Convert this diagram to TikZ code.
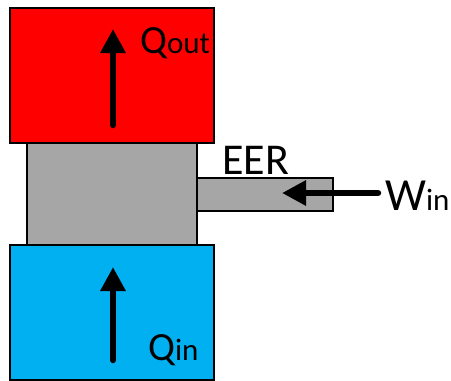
\documentclass[tikz,border=0pt]{standalone}
\usepackage{fontspec}
\setmainfont{Carlito}
\usepackage{tikz}
\usetikzlibrary{arrows.meta}
\definecolor{hotc}{RGB}{255,0,0}
\definecolor{coldc}{RGB}{0,176,240}
\definecolor{bodyc}{RGB}{166,166,166}
\tikzset{
  blk/.style={rectangle,draw=black,line width=1.5pt,inner sep=0pt},
  flux/.style={-{Triangle[length=24pt,width=24pt]},line width=6.5pt,line cap=round,black},
  lbl/.style={anchor=base west,inner sep=0pt,font=\fontsize{40}{48}\selectfont},
}
\newcommand{\sm}[1]{{\fontsize{31}{36}\selectfont #1}}

\begin{document}
\begin{tikzpicture}[x=1pt,y=-1pt]
  \useasboundingbox (0,0) rectangle (451,381);
  \node[blk,fill=bodyc,minimum width=170pt,minimum height=102pt] (body) at (112,194) {};
  \node[blk,fill=bodyc,minimum width=136pt,minimum height=33pt] (shaft) at (265,194.5) {};
  \node[blk,fill=hotc,minimum width=204pt,minimum height=135pt] (hot) at (112,75.5) {};
  \node[blk,fill=coldc,minimum width=204pt,minimum height=135pt] (cold) at (112,312.5) {};
  \coordinate (qo-tail) at (113,125);
  \coordinate (qo-tip) at (113,29);
  \coordinate (qi-tail) at (113,360);
  \coordinate (qi-tip) at (113,267);
  \coordinate (w-tail) at (378,193);
  \coordinate (w-tip) at (282,193);
  \draw[flux] (qo-tail) -- (qo-tip);
  \draw[flux] (qi-tail) -- (qi-tip);
  \draw[flux] (w-tail) -- (w-tip);
  \node[lbl] (qout) at (140,53) {Q\sm{out}};
  \node[lbl] (qin) at (148,360) {Q\sm{in}};
  \node[lbl,font=\fontsize{44}{52}\selectfont] (eer) at (222,174) {EER};
  \node[lbl,font=\fontsize{46}{54}\selectfont] (win) at (385,210) {W\sm{in}};
\end{tikzpicture}
\end{document}
